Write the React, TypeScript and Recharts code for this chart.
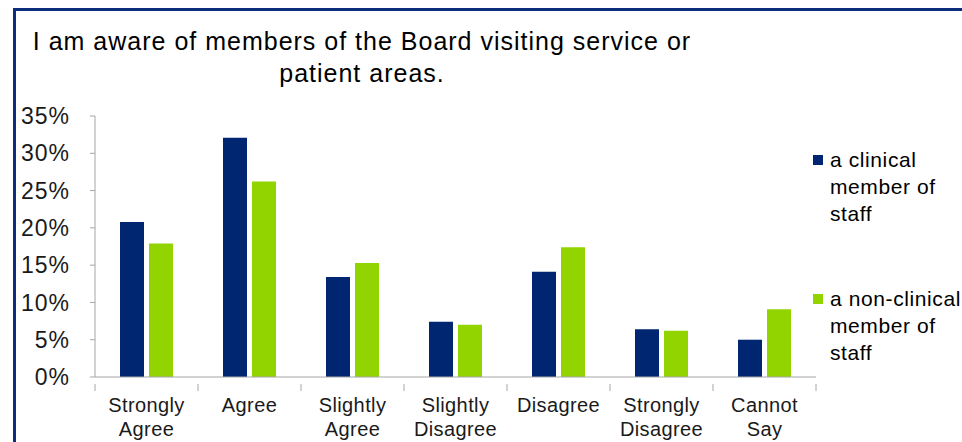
import React from "react";
import { BarChart, Bar, XAxis, YAxis, Legend } from "recharts";

const categories = [
  "Strongly Agree",
  "Agree",
  "Slightly Agree",
  "Slightly Disagree",
  "Disagree",
  "Strongly Disagree",
  "Cannot Say",
];
const clinical = [20.8, 32.1, 13.4, 7.4, 14.1, 6.4, 5.0];
const nonClinical = [17.9, 26.2, 15.3, 7.0, 17.4, 6.2, 9.1];
const yTicks = [0, 5, 10, 15, 20, 25, 30, 35];

const seriesNames = ["a clinical member of staff", "a non-clinical member of staff"];
const NAVY = "#002672";
const GREEN = "#92D400";
const AXIS = "#A6A6A6";
const FONT = "'Liberation Sans', Arial, sans-serif";

const data = categories.map((c, i) => ({
  category: c,
  clinical: clinical[i],
  nonClinical: nonClinical[i],
}));

const W = 962;
const H = 442;
const LEFT = 95;
const RIGHT = 146;
const BAND = (W - LEFT - RIGHT) / categories.length;

function CategoryTick(props: any) {
  const { x, y, payload, index } = props;
  const words = String(payload.value).split(" ");
  const left = x - BAND / 2;
  return (
    <g>
      <line x1={left} y1={y - 1} x2={left} y2={y + 6} stroke={AXIS} />
      {index === categories.length - 1 && (
        <line x1={left + BAND} y1={y - 1} x2={left + BAND} y2={y + 6} stroke={AXIS} />
      )}
      <text
        x={x}
        y={y + 27}
        textAnchor="middle"
        fontSize={20}
        letterSpacing={0.4}
        fontFamily={FONT}
        fill="#1a1a1a"
      >
        {words.map((w, i) => (
          <tspan key={i} x={x} dy={i === 0 ? 0 : 24}>
            {w}
          </tspan>
        ))}
      </text>
    </g>
  );
}

function LegendContent(props: any) {
  const { payload } = props;
  return (
    <div style={{ fontFamily: FONT, fontSize: 21, letterSpacing: 0.6, color: "#000" }}>
      {(payload || []).map((p: any, i: number) => {
        const words = String(p.value).split(" ");
        const lines = [words.slice(0, 2).join(" "), words.slice(2, 4).join(" "), words.slice(4).join(" ")];
        return (
          <div key={i} style={{ position: "relative", height: 139, whiteSpace: "nowrap" }}>
            <div
              style={{
                position: "absolute",
                left: 0,
                top: 8,
                width: 10,
                height: 10,
                background: p.color,
              }}
            />
            <div style={{ position: "absolute", left: 17, top: -1, lineHeight: "27px" }}>
              {lines.map((l, j) => (
                <div key={j}>{l}</div>
              ))}
            </div>
          </div>
        );
      })}
    </div>
  );
}

export default function App() {
  return (
    <div
      style={{
        position: "absolute",
        left: 0,
        top: 0,
        width: W,
        height: H,
        overflow: "hidden",
        background: "#fff",
      }}
    >
      <div
        style={{
          position: "absolute",
          left: 13,
          top: 8,
          width: 1100,
          height: 600,
          borderLeft: "3px solid #0B2E7C",
          borderTop: "3px solid #0B2E7C",
        }}
      />
      <div
        style={{
          position: "absolute",
          left: 0,
          top: 25,
          width: 724,
          textAlign: "center",
          fontFamily: FONT,
          fontSize: 25,
          letterSpacing: 1,
          lineHeight: "32px",
          color: "#000",
          whiteSpace: "nowrap",
        }}
      >
        I am aware of members of the Board visiting service or
        <br />
        patient areas.
      </div>
      <div style={{ position: "absolute", left: 0, top: 0 }}>
        <BarChart
          width={W}
          height={H}
          data={data}
          margin={{ top: 116, right: RIGHT, left: 0, bottom: 0 }}
          barSize={24}
          barGap={5}
        >
          <XAxis
            dataKey="category"
            height={65}
            stroke={AXIS}
            tickLine={false}
            interval={0}
            tick={<CategoryTick />}
          />
          <YAxis
            width={LEFT}
            domain={[0, 35]}
            ticks={yTicks}
            interval={0}
            tickFormatter={(v: number) => `${v}%`}
            stroke={AXIS}
            tickSize={5}
            tickMargin={20}
            tick={{ fontSize: 23, letterSpacing: 1, fontFamily: FONT, fill: "#1a1a1a" }}
          />
          <Legend
            layout="horizontal"
            align="center"
            verticalAlign="middle"
            wrapperStyle={{ position: "absolute", left: 813, top: 147, width: 160 }}
            content={<LegendContent />}
          />
          <Bar dataKey="clinical" name={seriesNames[0]} fill={NAVY} isAnimationActive={false} />
          <Bar dataKey="nonClinical" name={seriesNames[1]} fill={GREEN} isAnimationActive={false} />
        </BarChart>
      </div>
    </div>
  );
}
